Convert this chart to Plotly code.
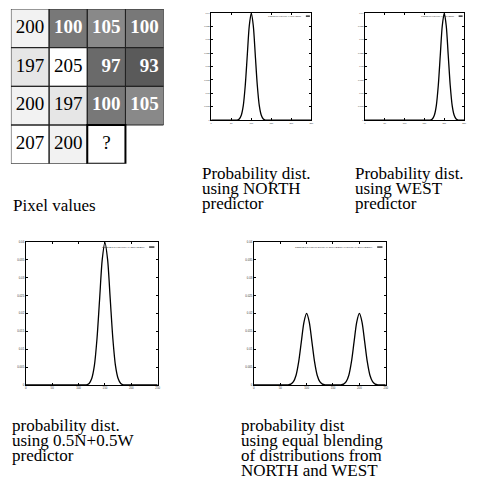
import plotly.graph_objects as go

# ---------------- data ----------------
pixel_rows = [
    [200, 100, 105, 100],
    [197, 205, 97, 93],
    [200, 197, 100, 105],
    [207, 200, None, None],
]
pixel_labels = [
    ["200", "100", "105", "100"],
    ["197", "205", "97", "93"],
    ["200", "197", "100", "105"],
    ["207", "200", "?", ""],
]

x_vals = [0, 5, 10, 15, 20, 25, 30, 35, 40, 45, 50, 55, 60, 65, 70, 75, 80, 85, 90, 95,
          100, 105, 110, 115, 120, 125, 130, 135, 140, 145, 150, 155, 160, 165, 170, 175,
          180, 185, 190, 195, 200, 205, 210, 215, 220, 225, 230, 235, 240, 245, 250]

north_y = [0, 0, 0, 0, 0, 0, 0, 0, 0, 0, 0, 0, 0, 0,
           0.0004, 0.0018, 0.0054, 0.0130, 0.0242, 0.0352, 0.0399, 0.0352, 0.0242, 0.0130, 0.0054, 0.0018, 0.0004,
           0, 0, 0, 0, 0, 0, 0, 0, 0, 0, 0, 0, 0, 0, 0, 0, 0, 0, 0, 0, 0, 0, 0, 0]
west_y = [0, 0, 0, 0, 0, 0, 0, 0, 0, 0, 0, 0, 0, 0, 0, 0, 0, 0, 0, 0, 0, 0, 0, 0, 0, 0, 0, 0, 0, 0, 0, 0, 0, 0,
          0.0004, 0.0018, 0.0054, 0.0130, 0.0242, 0.0352, 0.0399, 0.0352, 0.0242, 0.0130, 0.0054, 0.0018, 0.0004,
          0, 0, 0, 0]
mixed_y = [0, 0, 0, 0, 0, 0, 0, 0, 0, 0, 0, 0, 0, 0, 0, 0, 0, 0, 0, 0, 0, 0, 0, 0,
           0.0004, 0.0018, 0.0054, 0.0130, 0.0242, 0.0352, 0.0399, 0.0352, 0.0242, 0.0130, 0.0054, 0.0018, 0.0004,
           0, 0, 0, 0, 0, 0, 0, 0, 0, 0, 0, 0, 0, 0]
blend_y = [0, 0, 0, 0, 0, 0, 0, 0, 0, 0, 0, 0, 0, 0,
           0.0002, 0.0009, 0.0027, 0.0065, 0.0121, 0.0176, 0.0200, 0.0176, 0.0121, 0.0065, 0.0027, 0.0009, 0.0002,
           0, 0, 0, 0, 0, 0, 0,
           0.0002, 0.0009, 0.0027, 0.0065, 0.0121, 0.0176, 0.0200, 0.0176, 0.0121, 0.0065, 0.0027, 0.0009, 0.0002,
           0, 0, 0, 0]

curve_names = [
    "1/sqrt(2*3.14)/10*exp(-(x-100)**2/200)",
    "1/sqrt(2*3.14)/10*exp(-(x-200)**2/200)",
    "1/sqrt(2*3.14)/10*exp(-(x-150)**2/200)",
    "1/sqrt(2*3.14)/10*(0.5*exp(-(x-100)**2/200)+0.5*exp(-(x-200)**2/200))",
]
x_ticks = [0, 50, 100, 150, 200, 250]
y_ticks = [0, 0.005, 0.01, 0.015, 0.02, 0.025, 0.03, 0.035, 0.04]

captions = [
    (["Pixel values"], 11, 205),
    (["Probability dist.", "using NORTH", "predictor"], 202, 173),
    (["Probability dist.", "using WEST", "predictor"], 356, 173),
    (["probability dist.", "using 0.5N+0.5W", "predictor"], 10, 427),
    (["probability dist", "using equal blending", "of distributions from", "NORTH and WEST"], 241, 427),
]

# ---------------- layout helpers ----------------
W, H = 478, 497


def xd(a, b):
    return [a / W, b / W]


def yd(top, bottom):
    return [1 - bottom / H, 1 - top / H]


fig = go.Figure()

# ---------------- pixel grid ----------------
gray_scale = [[0, "#5a5a5a"], [0.035, "#6a6a6a"], [0.0614, "#787878"], [0.105, "#898989"],
              [0.912, "#e6e6e6"], [0.9386, "#f2f2f2"], [0.982, "#ffffff"], [1, "#ffffff"]]
n_rows = len(pixel_rows)
n_cols = len(pixel_rows[0])
fig.add_trace(go.Heatmap(
    z=pixel_rows, x=list(range(1, n_cols + 1)), y=list(range(1, n_rows + 1)),
    colorscale=gray_scale, zmin=93, zmax=207, showscale=False, hoverinfo="skip",
    xaxis="x", yaxis="y"))

tx, ty, tt, tc = [], [], [], []
for r in range(n_rows):
    for c in range(n_cols):
        lab = pixel_labels[r][c]
        if lab == "":
            continue
        v = pixel_rows[r][c]
        dark = v is not None and v < 150
        txt = lab if len(lab) == 3 or lab == "?" else "\u2007" + lab
        tx.append(c + 1)
        ty.append(r + 1)
        tt.append("<b>" + txt + "</b>" if dark else txt)
        tc.append("#ffffff" if dark else "#000000")
fig.add_trace(go.Scatter(x=tx, y=ty, text=tt, mode="text",
                         textfont=dict(family="Liberation Serif", size=19, color=tc),
                         hoverinfo="skip", xaxis="x", yaxis="y"))

shapes = []
for r in range(n_rows):
    for c in range(n_cols):
        if pixel_labels[r][c] == "":
            continue
        q = pixel_labels[r][c] == "?"
        shapes.append(dict(type="rect", xref="x", yref="y",
                           x0=c + 0.5, x1=c + 1.5, y0=r + 0.5, y1=r + 1.5,
                           line=dict(color="#000000" if q else "#222222", width=2 if q else 1)))

# ---------------- distribution plots ----------------
plots = [
    ("x2", "y2", north_y, curve_names[0], xd(212, 313), yd(11, 119), 2.2, 0.93, 0.97),
    ("x3", "y3", west_y, curve_names[1], xd(367, 467), yd(11, 119), 2.2, 0.93, 0.97),
    ("x4", "y4", mixed_y, curve_names[2], xd(25, 158), yd(242, 386), 2.8, 0.92, 0.965),
    ("x5", "y5", blend_y, curve_names[3], xd(255, 388), yd(242, 386), 2.8, 0.92, 0.965),
]

annotations = []
layout_axes = {}
for xa, ya, ys, name, dx, dy, fs, lx, ly in plots:
    fig.add_trace(go.Scatter(x=x_vals, y=ys, mode="lines", name=name,
                             line=dict(color="#000000", width=1.3, shape="spline", smoothing=0.8),
                             hoverinfo="skip", xaxis=xa, yaxis=ya))
    n = xa[1:]
    axis_common = dict(showline=True, linecolor="#000000", linewidth=1, mirror="ticks",
                       ticks="inside", ticklen=2, tickwidth=0.6, tickcolor="#000000",
                       showgrid=False, zeroline=False,
                       tickfont=dict(family="Liberation Sans", size=fs, color="#333333"))
    layout_axes["xaxis" + n] = dict(domain=dx, range=[0, 250], tickvals=x_ticks,
                                    anchor=ya, **axis_common)
    layout_axes["yaxis" + n] = dict(domain=dy, range=[0, 0.04], tickvals=y_ticks,
                                    anchor=xa, **axis_common)
    annotations.append(dict(xref=xa + " domain", yref=ya + " domain", x=lx, y=ly,
                            xanchor="right", yanchor="middle", showarrow=False, text=name,
                            font=dict(family="Liberation Sans", size=fs * 0.9, color="#222222")))
    shapes.append(dict(type="line", xref=xa + " domain", yref=ya + " domain",
                       x0=lx + 0.015, x1=lx + 0.055, y0=ly, y1=ly,
                       line=dict(color="#000000", width=1.2)))

# ---------------- captions ----------------
for lines, px, py in captions:
    for i, line in enumerate(lines):
        annotations.append(dict(xref="paper", yref="paper", x=px / W, y=1 - (py + 15 * i) / H,
                                xanchor="left", yanchor="middle", showarrow=False, text=line,
                                borderpad=0,
                                font=dict(family="Liberation Serif", size=17, color="#000000")))

fig.update_layout(
    width=W, height=H, margin=dict(l=0, r=0, t=0, b=0),
    paper_bgcolor="#ffffff", plot_bgcolor="#ffffff", showlegend=False,
    xaxis=dict(domain=xd(10, 164), range=[0.5, n_cols + 0.5], visible=False, anchor="y"),
    yaxis=dict(domain=yd(7, 163), range=[n_rows + 0.5, 0.5], visible=False, anchor="x"),
    shapes=shapes, annotations=annotations,
    **layout_axes,
)

fig.write_html("out.html", config={"displayModeBar": False},
               post_script="document.body.style.margin='0px';")
